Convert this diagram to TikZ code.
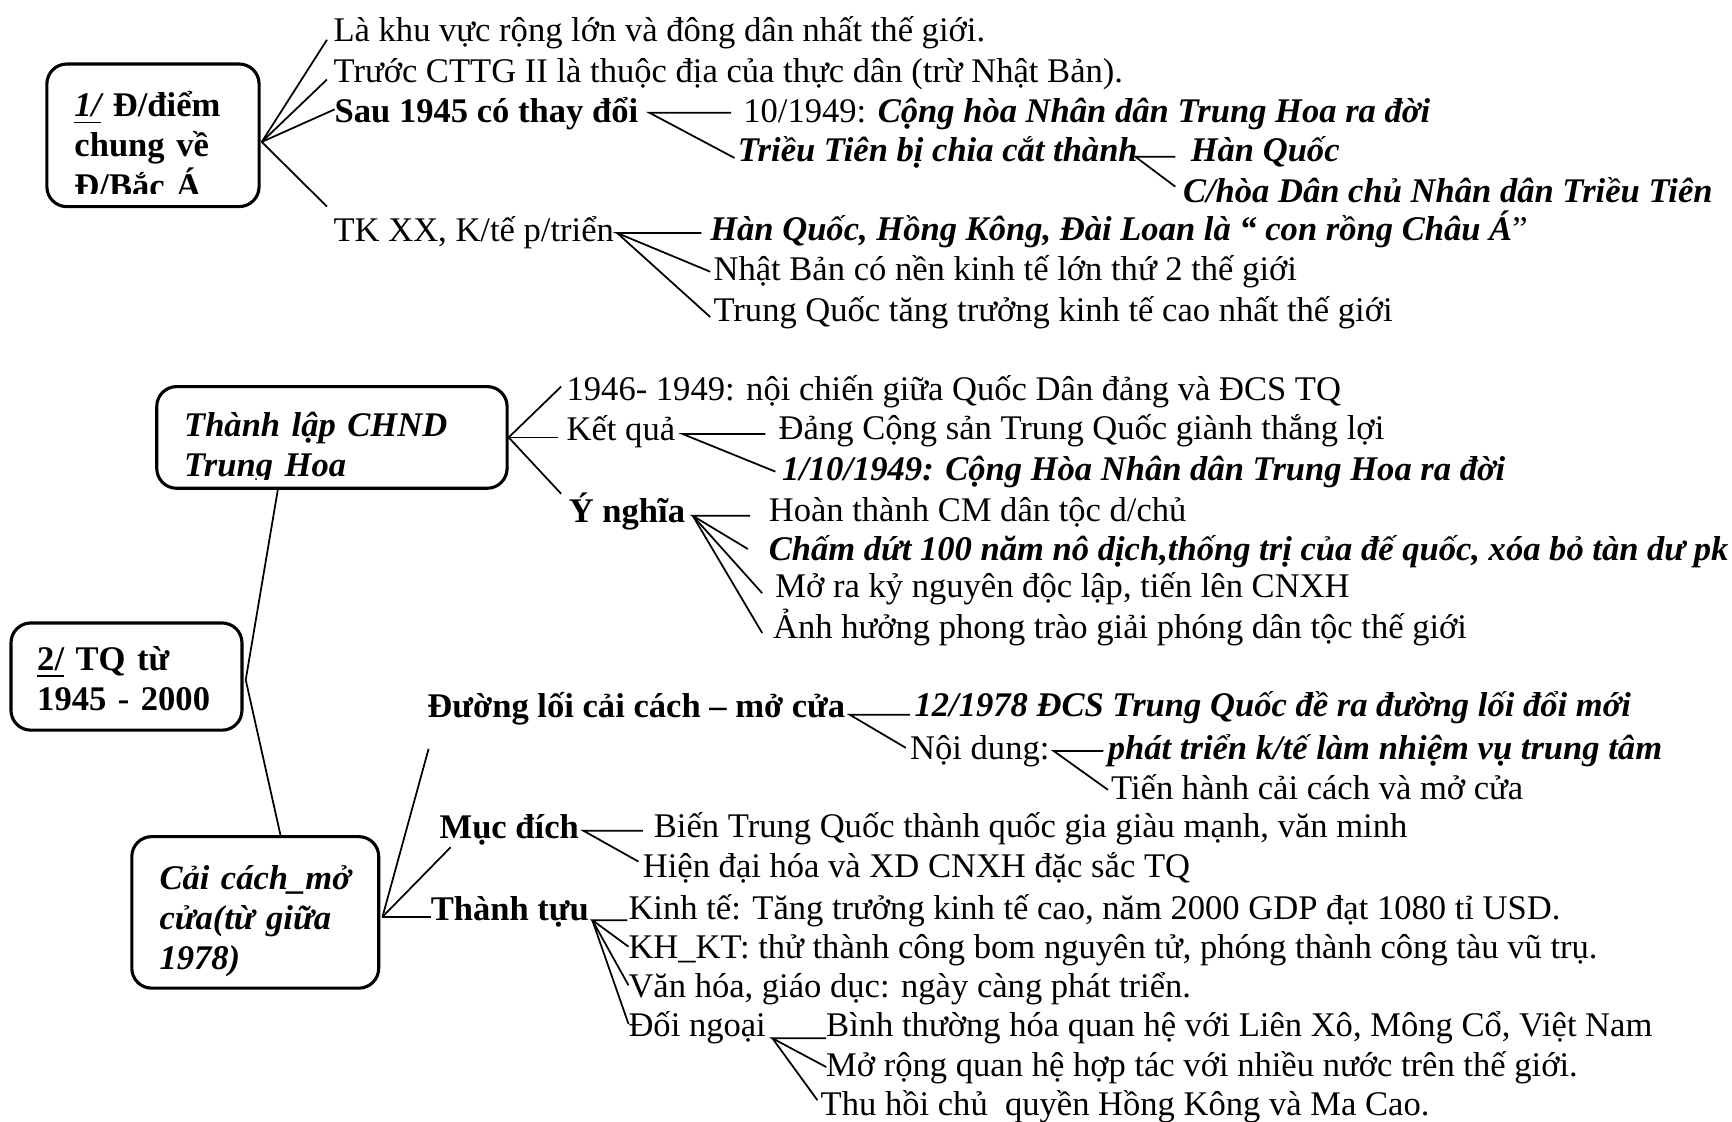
\documentclass[tikz,border=0pt]{standalone}
\usepackage{fontspec}
\setmainfont{Liberation Serif}
\usetikzlibrary{calc}

\begin{document}
\begin{tikzpicture}[x=0.01cm, y=-0.01cm,
  every node/.style={font=\fontsize{8.9}{10.4}\selectfont},
  topic/.style={draw, line width=0.8pt, rounded corners=1.8mm, inner sep=0pt},
  boxtxt/.style={anchor=base west, inner sep=0pt, text width=3cm, align=left, font=\fontsize{8.9}{10.4}\selectfont\bfseries},
  boxbi/.style={boxtxt, font=\fontsize{8.9}{10.4}\selectfont\bfseries\itshape},
  leaf/.style={anchor=base west, inner sep=0pt, outer sep=0pt},
  bd/.style={leaf, font=\fontsize{8.9}{10.4}\selectfont\bfseries},
  bi/.style={leaf, font=\fontsize{8.9}{10.4}\selectfont\bfseries\itshape},
  link/.style={line width=0.45pt}
]
\useasboundingbox (0,0) rectangle (1568,1015);

% boxes
\node[topic, minimum width=1.92cm, minimum height=1.29cm] (b1) at (138.5,122.5) {};
\node[topic, minimum width=3.17cm, minimum height=0.92cm] (b2) at (300.5,396) {};
\node[topic, minimum width=2.09cm, minimum height=0.97cm] (b3) at (114.5,612.5) {};
\node[topic, minimum width=2.234cm, minimum height=1.371cm] (b4) at (231.1,826) {};

\begin{scope}
  \clip (b1.north west) rectangle ($(b1.south east)+(0,-13)$);
  \node[boxtxt] (b1t) at (66.7,105.5) {\underline{\itshape 1/} Đ/điểm\\chung về\\Đ/Bắc Á};
\end{scope}
\begin{scope}
  \clip (b2.north west) rectangle ($(b2.south east)+(0,-9)$);
  \node[boxbi] (b2t) at (166,395) {Thành lập CHND\\Trung Hoa};
\end{scope}
\node[boxtxt] (b3t) at (33,607) {\underline{2/} TQ từ\\1945 - 2000};
\node[boxbi] (b4t) at (143.7,805) {Cải cách\_mở\\cửa(từ giữa\\1978)};

% 1/ dac diem chung
\node[leaf] (t1) at (302,38) {Là khu vực rộng lớn và đông dân nhất thế giới.};
\node[leaf] (t2) at (302,75) {Trước CTTG II là thuộc địa của thực dân (trừ Nhật Bản).};
\node[bd] (t3) at (303,111) {Sau 1945 có thay đổi};
\node[leaf] (t31) at (673,111) {10/1949: \textbf{\textit{Cộng hòa Nhân dân Trung Hoa ra đời}}};
\node[bi] (t32) at (668,146) {Triều Tiên bị chia cắt thành};
\node[bi] (t321) at (1078,146) {Hàn Quốc};
\node[bi] (t322) at (1071,183) {C/hòa Dân chủ Nhân dân Triều Tiên};
\node[leaf] (t4) at (302,219) {TK XX, K/tế p/triển};
\node[leaf] (t41) at (643,218) {\textbf{\textit{Hàn Quốc, Hồng Kông, Đài Loan là “ con rồng Châu Á}}”};
\node[leaf] (t42) at (646,254) {Nhật Bản có nền kinh tế lớn thứ 2 thế giới};
\node[leaf] (t43) at (646,291) {Trung Quốc tăng trưởng kinh tế cao nhất thế giới};

% thanh lap CHND Trung Hoa
\node[leaf] (s1) at (513,363) {1946- 1949: nội chiến giữa Quốc Dân đảng và ĐCS TQ};
\node[leaf] (s2) at (513,399) {Kết quả};
\node[leaf] (s21) at (705,398) {Đảng Cộng sản Trung Quốc giành thắng lợi};
\node[bi] (s22) at (708,435) {1/10/1949: Cộng Hòa Nhân dân Trung Hoa ra đời};
\node[bd] (s3) at (515,473) {Ý nghĩa};
\node[leaf] (s31) at (696,472) {Hoàn thành CM dân tộc d/chủ};
\node[bi] (s32) at (696,507) {Chấm dứt 100 năm nô dịch,thống trị của đế quốc, xóa bỏ tàn dư pk};
\node[leaf] (s33) at (702,541) {Mở ra kỷ nguyên độc lập, tiến lên CNXH};
\node[leaf] (s34) at (700,578) {Ảnh hưởng phong trào giải phóng dân tộc thế giới};

% cai cach mo cua
\node[bd] (r1) at (387,650) {Đường lối cải cách – mở cửa};
\node[bi] (r11) at (828,649) {12/1978 ĐCS Trung Quốc đề ra đường lối đổi mới};
\node[leaf] (r12) at (824,688) {Nội dung:};
\node[bi] (r121) at (1003,688) {phát triển k/tế làm nhiệm vụ trung tâm};
\node[leaf] (r122) at (1006,724) {Tiến hành cải cách và mở cửa};
\node[bd] (r2) at (398,759) {Mục đích};
\node[leaf] (r21) at (592,758) {Biến Trung Quốc thành quốc gia giàu mạnh, văn minh};
\node[leaf] (r22) at (582,794) {Hiện đại hóa và XD CNXH đặc sắc TQ};
\node[bd] (r3) at (390,833) {Thành tựu};
\node[leaf] (r31) at (569,832) {Kinh tế: Tăng trưởng kinh tế cao, năm 2000 GDP đạt 1080 tỉ USD.};
\node[leaf] (r32) at (569,868) {KH\_KT: thử thành công bom nguyên tử, phóng thành công tàu vũ trụ.};
\node[leaf] (r33) at (569,903) {Văn hóa, giáo dục: ngày càng phát triển.};
\node[leaf] (r34) at (569,938) {Đối ngoại};
\node[leaf] (r341) at (748,938) {Bình thường hóa quan hệ với Liên Xô, Mông Cổ, Việt Nam};
\node[leaf] (r342) at (748,975) {Mở rộng quan hệ hợp tác với nhiều nước trên thế giới.};
\node[leaf] (r343) at (743,1010) {Thu hồi chủ\ \ quyền Hồng Kông và Ma Cao.};

% links, part 1
\coordinate (h1) at ($(b1.east)+(1,6)$);
\draw[link] (h1) -- ($(t1.base west)+(-6,-2)$);
\draw[link] (h1) -- ($(t2.base west)+(-6,-3)$);
\draw[link] (h1) -- ($(t3.base west)+(0,-12)$);
\draw[link] (h1) -- ($(t4.base west)+(-6,-32)$);
\coordinate (f3) at ($(t3.base east)+(10,-9)$);
\draw[link] ($(f3 -| t31.base west)+(-11,0)$) -- (f3) -- ($(t32.base west)+(-3,-3)$);
\coordinate (f32) at ($(t32.base east)+(-2,-4)$);
\draw[link] ($(f32 -| t321.base west)+(-14,0)$) -- (f32) -- ($(t322.base west)+(-7,-14)$);
\coordinate (f4) at ($(t4.base east)+(3,-8)$);
\draw[link] ($(f4 -| t41.base west)+(-8,0)$) -- (f4) -- ($(t42.base west)+(-3,-8)$);
\draw[link] (f4) -- ($(t43.base west)+(-3,-4)$);

% links, part 2
\draw[link] ($(b2.south west)+(111,0)$) -- ($(b3.east)+(2,3)$) -- ($(b4.north west)+(136,0)$);
\coordinate (h2) at (b2.east);
\draw[link] (h2) -- ($(s1.base west)+(-5,-13)$);
\draw[link] (h2) -- ($(h2 -| s2.base west)+(-8,0)$);
\draw[link] (h2) -- ($(s3.base west)+(-7,-26)$);
\coordinate (fs2) at ($(s2.base east)+(7,-6)$);
\draw[link] ($(fs2 -| s21.base west)+(-12,0)$) -- (fs2) -- ($(s22.base west)+(-6,-8)$);
\coordinate (fs3) at ($(s3.base east)+(7,-6)$);
\draw[link] ($(fs3 -| s31.base west)+(-17,0)$) -- (fs3) -- ($(s32.base west)+(-19,-10)$);
\draw[link] (fs3) -- ($(s33.base west)+(-12,-4)$);
\draw[link] (fs3) -- ($(s34.base west)+(-10,-5)$);

% links, part 3
\coordinate (h4) at ($(b4.east)+(2,4)$);
\draw[link] (h4) -- ($(r1.base west)+(1,28)$);
\draw[link] (h4) -- ($(r2.base west)+(10,8)$);
\draw[link] (h4) -- (h4 -| r3.base west);
\coordinate (fr1) at ($(r1.base east)+(4,-3)$);
\draw[link] ($(fr1 -| r11.base west)+(-4,0)$) -- (fr1) -- ($(r12.base west)+(-4,-11)$);
\coordinate (fr12) at ($(r12.base east)+(4,-8)$);
\draw[link] ($(fr12 -| r121.base west)+(-4,0)$) -- (fr12) -- ($(r122.base west)+(-3,-9)$);
\coordinate (fr2) at ($(r2.base east)+(4,-7)$);
\draw[link] ($(fr2 -| r21.base west)+(-10,0)$) -- (fr2) -- ($(r22.base west)+(-4,-14)$);
\coordinate (fr3) at ($(r3.base east)+(3,0)$);
\draw[link] ($(fr3 -| r31.base west)+(-1,0)$) -- (fr3) -- ($(r32.base west)+(0,-11)$);
\draw[link] (fr3) -- ($(r33.base west)+(0,-11)$);
\draw[link] (fr3) -- ($(r34.base west)+(0,-11)$);
\coordinate (fr34) at ($(r34.base east)+(6,2)$);
\draw[link] (fr34 -| r341.base west) -- (fr34) -- ($(r342.base west)+(0,-9)$);
\draw[link] (fr34) -- ($(r343.base west)+(-3,-14)$);
\end{tikzpicture}
\end{document}
